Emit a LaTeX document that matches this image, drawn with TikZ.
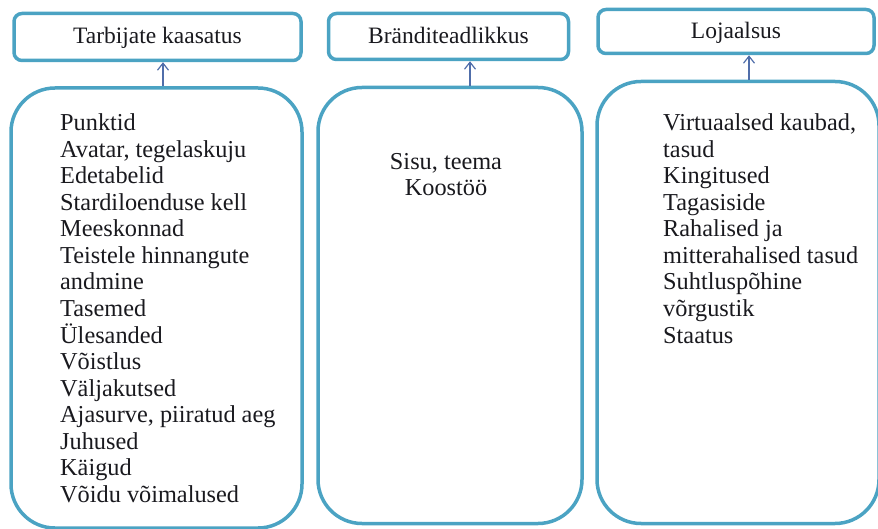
\documentclass[tikz,border=0pt]{standalone}
\usepackage{fontspec}
\setmainfont{Liberation Serif}
\usetikzlibrary{arrows.meta}
\definecolor{boxline}{RGB}{75,163,195}
\definecolor{arrline}{RGB}{80,110,170}
\definecolor{txt}{RGB}{25,25,30}
\begin{document}
\begin{tikzpicture}[x=1pt,y=-1pt,
  topbox/.style={draw=boxline, text=txt, line width=3.5pt, rounded corners=8pt, inner sep=0pt, font=\fontsize{23.5}{26}\selectfont},
  bigbox/.style={draw=boxline, line width=3.5pt, rounded corners=44pt, inner sep=0pt},
  itemtext/.style={anchor=base west, text=txt, inner sep=0pt, font=\fontsize{24.3}{26}\selectfont},
  ctrtext/.style={anchor=base, text=txt, inner sep=0pt, font=\fontsize{24.3}{26}\selectfont},
  arr/.style={draw=arrline, line width=1.4pt, -{Straight Barb[length=7pt,width=11pt,line width=1.2pt]}}]
\useasboundingbox (0,0) rectangle (878,529);
% top boxes
\node[topbox, minimum width=287pt, minimum height=47pt, text depth=0.25em] (t1) at (157.5,37) {Tarbijate kaasatus};
\node[topbox, minimum width=240pt, minimum height=46pt, text depth=0.25em] (t2) at (448.5,36.5) {Bränditeadlikkus};
\node[topbox, minimum width=276pt, minimum height=44pt, text depth=0.25em] (t3) at (736,31.5) {Lojaalsus};
% big boxes
\node[bigbox, minimum width=291pt, minimum height=440pt] (b1) at (156.5,308) {};
\node[bigbox, minimum width=264pt, minimum height=436pt] (b2) at (450,305.5) {};
\node[bigbox, minimum width=282pt, minimum height=442pt] (b3) at (738,302.5) {};
% arrows
\draw[arr] ([xshift=6.5pt]b1.north) -- ([xshift=5.5pt]t1.south);
\draw[arr] ([xshift=20pt]b2.north) -- ([xshift=21.5pt]t2.south);
\draw[arr] ([xshift=11pt]b3.north) -- ([xshift=13pt]t3.south);
% list 1
\foreach \txt [count=\i] in {Punktid, {Avatar, tegelaskuju}, Edetabelid, Stardiloenduse kell, Meeskonnad, Teistele hinnangute, andmine, Tasemed, Ülesanded, Võistlus, Väljakutsed, {Ajasurve, piiratud aeg}, Juhused, Käigud, Võidu võimalused}
  \node[itemtext] (la\i) at (60, 131+26.5*\i-26.5) {\txt};
% list 2
\node[ctrtext] (lb1) at (446,170) {Sisu, teema};
\node[ctrtext] (lb2) at (446,196) {Koostöö};
% list 3
\foreach \txt [count=\i] in {{Virtuaalsed kaubad,}, tasud, Kingitused, Tagasiside, Rahalised ja, mitterahalised tasud, Suhtluspõhine, võrgustik, Staatus}
  \node[itemtext] (lc\i) at (663, 131+26.5*\i-26.5) {\txt};
\end{tikzpicture}
\end{document}
